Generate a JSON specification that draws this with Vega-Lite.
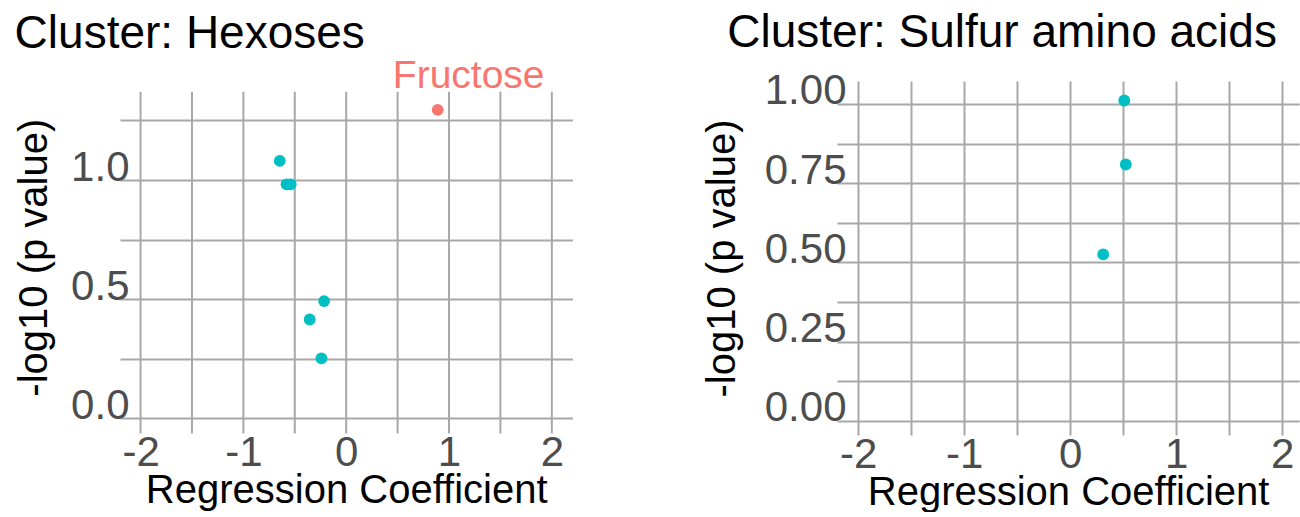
{
  "$schema": "https://vega.github.io/schema/vega-lite/v6.json",
  "padding": {"left": 14, "top": 9, "right": 0, "bottom": 0},
  "background": "white",
  "datasets": {
    "hexoses": [
      {"coef": 0.89, "logp": 1.294, "label": "Fructose", "sig": "yes"},
      {"coef": -0.646, "logp": 1.08, "label": null, "sig": "no"},
      {"coef": -0.58, "logp": 0.982, "label": null, "sig": "no"},
      {"coef": -0.54, "logp": 0.982, "label": null, "sig": "no"},
      {"coef": -0.215, "logp": 0.492, "label": null, "sig": "no"},
      {"coef": -0.355, "logp": 0.415, "label": null, "sig": "no"},
      {"coef": -0.241, "logp": 0.252, "label": null, "sig": "no"}
    ],
    "sulfur": [
      {"coef": 0.51, "logp": 1.011, "label": null, "sig": "no"},
      {"coef": 0.524, "logp": 0.809, "label": null, "sig": "no"},
      {"coef": 0.311, "logp": 0.525, "label": null, "sig": "no"}
    ],
    "xbreaks": [
      {"b": -2}, {"b": -1.5}, {"b": -1}, {"b": -0.5}, {"b": 0},
      {"b": 0.5}, {"b": 1}, {"b": 1.5}, {"b": 2}
    ]
  },
  "config": {
    "font": "Liberation Sans",
    "view": {"stroke": null},
    "axis": {
      "domain": false,
      "ticks": false,
      "tickSize": 0,
      "gridColor": "#a8a8a8",
      "gridWidth": 2,
      "gridOpacity": 1,
      "labelColor": "#4d4d4d",
      "labelFont": "Liberation Sans",
      "labelFontSize": 42,
      "titleFont": "Liberation Sans",
      "titleFontSize": 40,
      "titleFontWeight": "normal",
      "titleColor": "#000000"
    },
    "title": {
      "fontSize": 46,
      "fontWeight": "normal",
      "font": "Liberation Sans",
      "anchor": "start",
      "frame": "bounds",
      "color": "#000000"
    }
  },
  "bounds": "full",
  "spacing": 129,
  "hconcat": [
    {
      "title": {"text": "Cluster: Hexoses", "offset": -1.5},
      "width": 452.4,
      "height": 352.4,
      "resolve": {"scale": {"x": "shared", "y": "shared"}},
      "layer": [
        {
          "data": {"name": "xbreaks"},
          "mark": {"type": "rule", "color": "#a8a8a8", "strokeWidth": 2},
          "encoding": {
            "x": {
              "field": "b",
              "type": "quantitative",
              "scale": {"domain": [-2.2, 2.2], "nice": false, "zero": false},
              "axis": {
                "title": "Regression Coefficient",
                "grid": false,
                "values": [-2, -1, 0, 1, 2],
                "labelExpr": "'' + datum.value",
                "labelPadding": -1,
                "titlePadding": -3
              }
            },
            "y": {
              "datum": -0.0629,
              "type": "quantitative",
              "scale": {"domain": [-0.0629, 1.4153], "nice": false, "zero": false},
              "axis": {
                "title": "-log10 (p value)",
                "grid": true,
                "values": [0, 0.25, 0.5, 0.75, 1, 1.25],
                "labelExpr": "datum.value % 0.5 === 0 ? format(datum.value, '.1f') : ''",
                "labelBaseline": "alphabetic",
                "labelPadding": -9,
                "titlePadding": 16
              }
            },
            "y2": {"datum": 1.3704}
          }
        },
        {
          "data": {"name": "hexoses"},
          "mark": {"type": "circle", "size": 140, "opacity": 1},
          "encoding": {
            "x": {"field": "coef", "type": "quantitative"},
            "y": {"field": "logp", "type": "quantitative"},
            "color": {
              "field": "sig",
              "type": "nominal",
              "scale": {"domain": ["yes", "no"], "range": ["#F8766D", "#00BFC4"]},
              "legend": null
            }
          }
        },
        {
          "data": {"name": "hexoses"},
          "transform": [{"filter": "datum.label != null"}],
          "mark": {
            "type": "text",
            "fontSize": 39,
            "align": "center",
            "baseline": "alphabetic",
            "dx": 31,
            "dy": -22,
            "color": "#F8766D"
          },
          "encoding": {
            "x": {"field": "coef", "type": "quantitative"},
            "y": {"field": "logp", "type": "quantitative"},
            "text": {"field": "label"}
          }
        }
      ]
    },
    {
      "title": {"text": "Cluster: Sulfur amino acids", "offset": 13.3, "dx": 25},
      "width": 462.2,
      "height": 354,
      "data": {"name": "sulfur"},
      "layer": [
        {
          "mark": {"type": "circle", "size": 140, "opacity": 1},
          "encoding": {
            "x": {
              "field": "coef",
              "type": "quantitative",
              "scale": {"domain": [-2.2, 2.16], "nice": false, "zero": false},
              "axis": {
                "title": "Regression Coefficient",
                "values": [-2, -1.5, -1, -0.5, 0, 0.5, 1, 1.5, 2],
                "labelExpr": "datum.value % 1 === 0 ? '' + datum.value : ''",
                "labelPadding": -1,
                "titlePadding": -3
              }
            },
            "y": {
              "field": "logp",
              "type": "quantitative",
              "scale": {"domain": [-0.0452, 1.0726], "nice": false, "zero": false},
              "axis": {
                "title": "-log10 (p value)",
                "values": [0, 0.125, 0.25, 0.375, 0.5, 0.625, 0.75, 0.875, 1],
                "labelExpr": "datum.value % 0.25 === 0 ? format(datum.value, '.2f') : ''",
                "labelBaseline": "alphabetic",
                "labelPadding": -9,
                "titlePadding": 22
              }
            },
            "color": {
              "field": "sig",
              "type": "nominal",
              "scale": {"domain": ["yes", "no"], "range": ["#F8766D", "#00BFC4"]},
              "legend": null
            }
          }
        }
      ]
    }
  ]
}
